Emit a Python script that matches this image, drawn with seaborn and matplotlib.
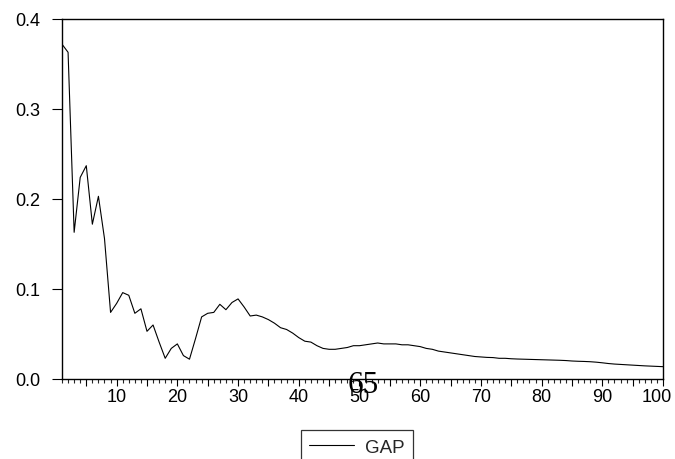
import numpy as np
import pandas as pd
import matplotlib
matplotlib.use("Agg")
import matplotlib.pyplot as plt
import matplotlib.transforms as mtransforms
from matplotlib.ticker import MultipleLocator, FuncFormatter
import seaborn as sns

# horizon (periods) and GAP values
periods = list(range(1, 101))
gap = [
    0.372, 0.363, 0.163, 0.224, 0.237, 0.172, 0.203, 0.156, 0.074, 0.084,
    0.096, 0.093, 0.073, 0.078, 0.053, 0.060, 0.041, 0.023, 0.034, 0.039,
    0.026, 0.022, 0.045, 0.069, 0.073, 0.074, 0.083, 0.077, 0.085, 0.089,
    0.080, 0.070, 0.071, 0.069, 0.066, 0.062, 0.057, 0.055, 0.051, 0.046,
    0.042, 0.041, 0.037, 0.034, 0.033, 0.033, 0.034, 0.035, 0.037, 0.037,
    0.038, 0.039, 0.040, 0.039, 0.039, 0.039, 0.038, 0.038, 0.037, 0.036,
    0.034, 0.033, 0.031, 0.030, 0.029, 0.028, 0.027, 0.026, 0.025, 0.0245,
    0.024, 0.0238, 0.023, 0.023, 0.0225, 0.0222, 0.022, 0.0218, 0.0216, 0.0214,
    0.0212, 0.021, 0.0208, 0.0205, 0.020, 0.0197, 0.0195, 0.0192, 0.0187, 0.018,
    0.0172, 0.0166, 0.0162, 0.0158, 0.0154, 0.015, 0.0146, 0.0143, 0.014, 0.0137,
]
y_ticks = [0.0, 0.1, 0.2, 0.3, 0.4]

df = pd.DataFrame({"period": periods, "GAP": gap})

sns.set_style("ticks")
plt.rcParams["font.family"] = ["Liberation Sans", "DejaVu Sans"]

fig = plt.figure(figsize=(6.75, 4.6), dpi=100)
ax = fig.add_axes([62 / 675, 1 - 380 / 460, (663 - 62) / 675, (380 - 20) / 460])

sns.lineplot(data=df, x="period", y="GAP", color="black", linewidth=0.8,
             ax=ax, label="GAP", legend=False)

ax.set_xlim(1, 100)
ax.set_ylim(0, 0.4)
ax.set_yticks(y_ticks)
ax.yaxis.set_major_formatter(FuncFormatter(lambda v, p: f"{v:.1f}"))
ax.xaxis.set_major_locator(MultipleLocator(5))
ax.xaxis.set_minor_locator(MultipleLocator(1))
ax.xaxis.set_major_formatter(FuncFormatter(lambda v, p: f"{int(v)}" if int(v) % 10 == 0 else ""))
ax.set_xlabel("")
ax.set_ylabel("")

for s in ax.spines.values():
    s.set_visible(True)
    s.set_linewidth(1.0)
    s.set_color("black")

ax.tick_params(axis="x", which="major", length=5, width=0.8, direction="out",
               labelsize=13, pad=1.5, colors="black")
ax.tick_params(axis="x", which="minor", length=3, width=0.8, direction="out")
ax.tick_params(axis="y", which="major", length=7, width=0.8, direction="out",
               labelsize=13, pad=8.5, colors="black")

# the last x label sits a little to the left so it stays inside the figure
fig.canvas.draw()
for tick in ax.xaxis.get_major_ticks():
    if abs(tick.get_loc() - 100) < 1e-6:
        lab = tick.label1
        lab.set_transform(lab.get_transform() +
                          mtransforms.ScaledTranslation(-6 / 100, 0, fig.dpi_scale_trans))

# legend box at the bottom, cut by the figure edge
handles, labels = ax.get_legend_handles_labels()
leg = fig.legend(handles, labels, loc="upper left",
                 bbox_to_anchor=(301 / 675, 1 - 431 / 460),
                 frameon=True, fancybox=False, edgecolor="black",
                 fontsize=13.5, handlelength=2.4, handletextpad=0.55,
                 borderpad=0.45, borderaxespad=0)
leg.get_frame().set_linewidth(0.9)

# stray page number overlapping the axis
fig.text(363.5 / 675, 1 - 393.5 / 460, "65", family=["Liberation Serif", "DejaVu Serif"],
         fontsize=22.5, ha="center", va="baseline", color="black")

fig.savefig("out.png", dpi=100)
